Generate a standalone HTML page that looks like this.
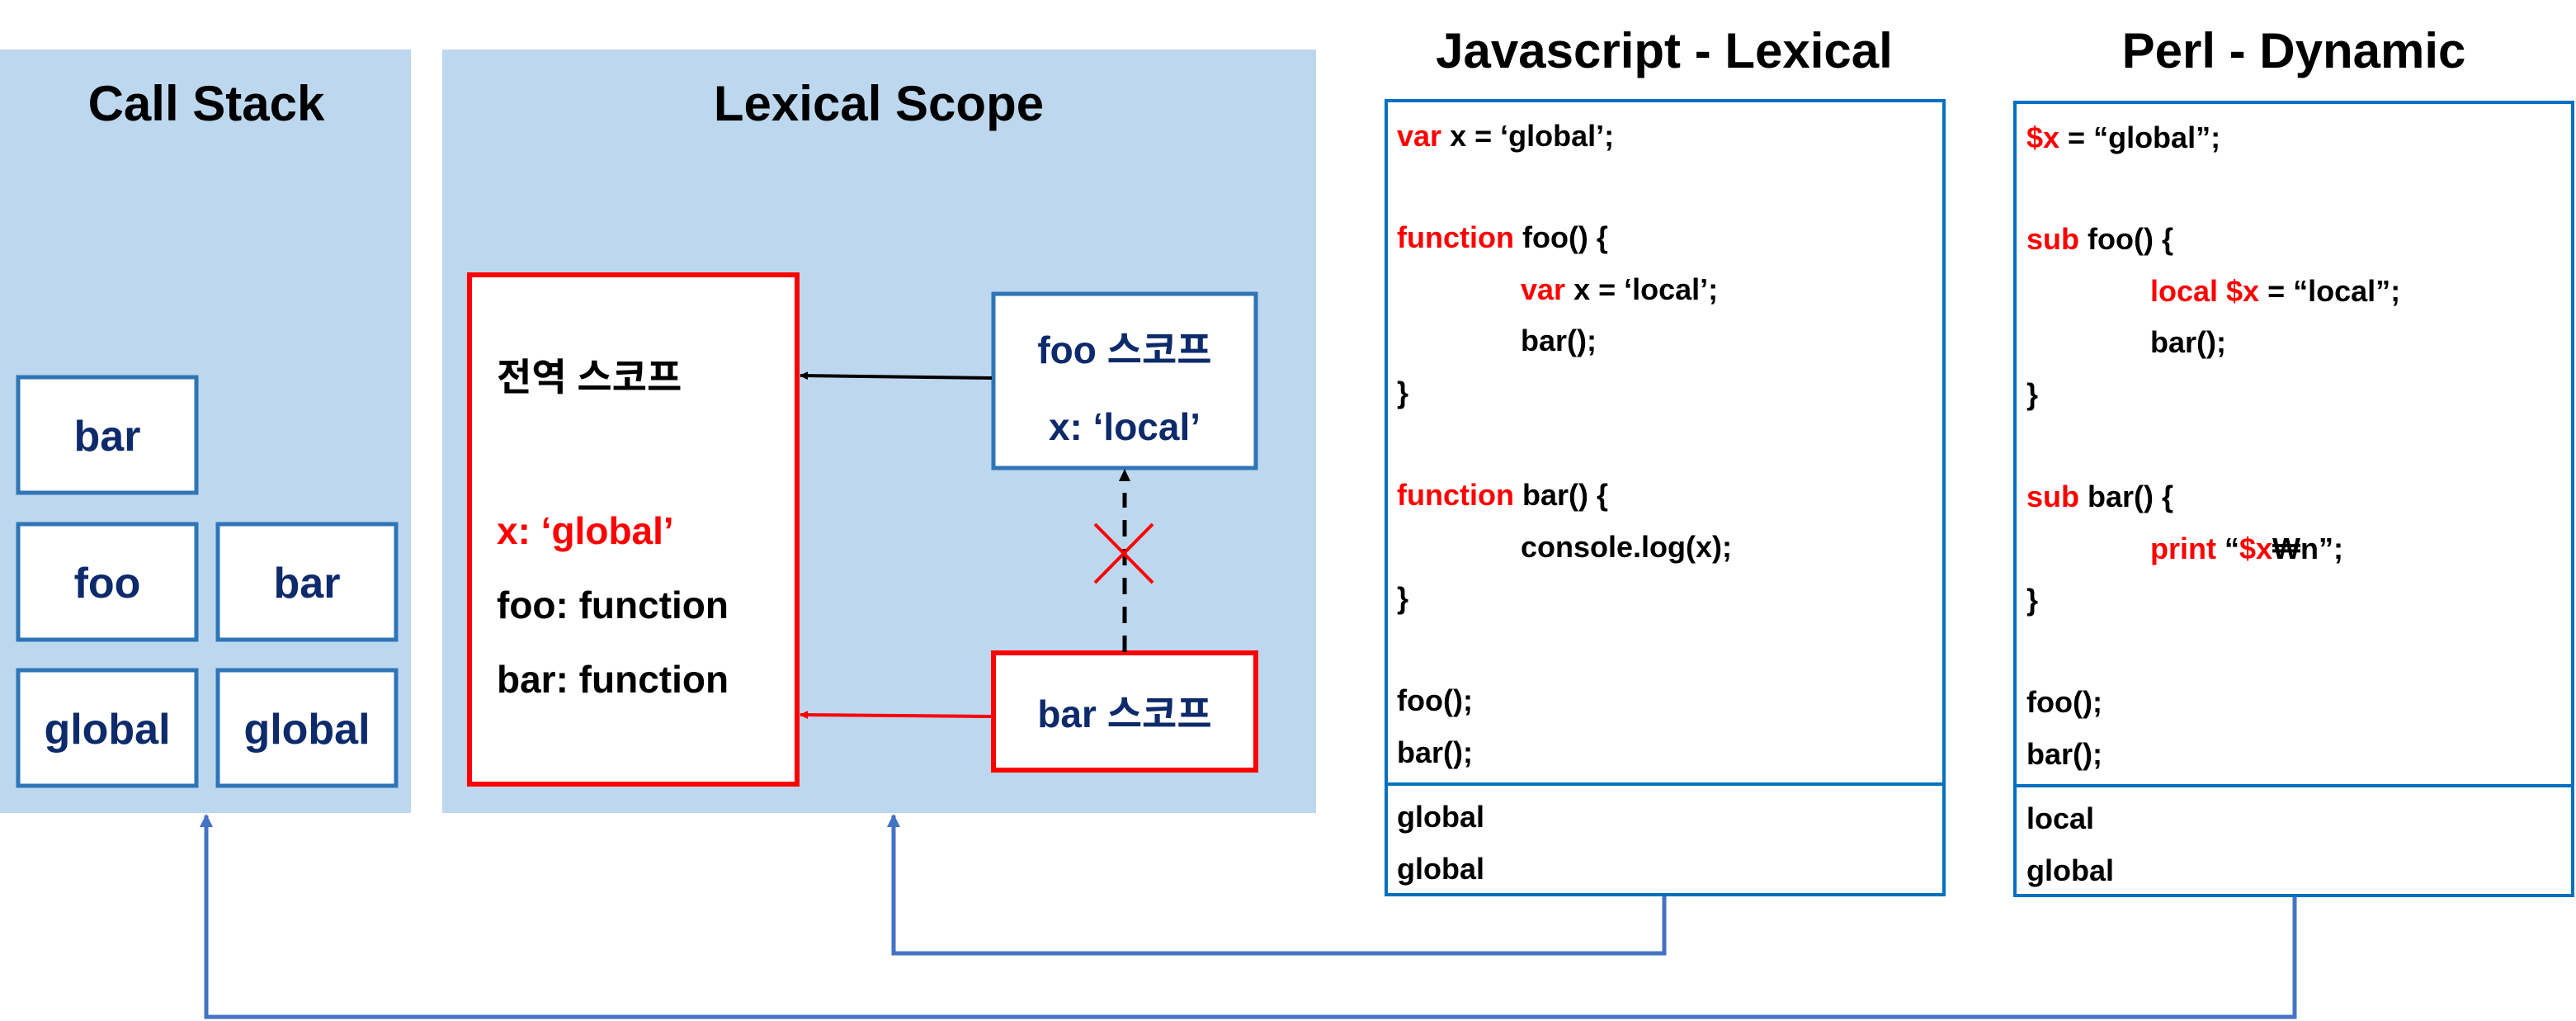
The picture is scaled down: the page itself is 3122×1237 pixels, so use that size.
<!DOCTYPE html>
<html><head><meta charset="utf-8"><style>
html,body{margin:0;padding:0;background:#fff;}
svg{display:block;}
text{font-family:"Liberation Sans","Noto Sans CJK KR",sans-serif;font-weight:bold;}
</style></head><body>
<svg width="3122" height="1237" viewBox="0 0 3122 1237" xmlns="http://www.w3.org/2000/svg">
<defs>
<marker id="ab" markerWidth="10" markerHeight="10" refX="9" refY="5" orient="auto" markerUnits="userSpaceOnUse"><path d="M0,0 L10,5 L0,10 z" fill="#000"/></marker>
<marker id="ar" markerWidth="10" markerHeight="10" refX="9" refY="5" orient="auto" markerUnits="userSpaceOnUse"><path d="M0,0 L10,5 L0,10 z" fill="#f00"/></marker>
<marker id="au" markerWidth="16" markerHeight="16" refX="14" refY="8" orient="auto" markerUnits="userSpaceOnUse"><path d="M0,0 L16,8 L0,16 z" fill="#4472c4"/></marker>
</defs>
<!-- panels -->
<rect x="0" y="60" width="498" height="925" fill="#bdd7ee"/>
<rect x="536" y="60" width="1059" height="925" fill="#bdd7ee"/>
<text x="250" y="146" font-size="60" text-anchor="middle" fill="#000">Call Stack</text>
<text x="1065" y="146" font-size="60" text-anchor="middle" fill="#000">Lexical Scope</text>
<!-- call stack boxes -->
<g fill="#fff" stroke="#2e75b6" stroke-width="5">
<rect x="22" y="457" width="216" height="140"/>
<rect x="22" y="635" width="216" height="140"/>
<rect x="264" y="635" width="216" height="140"/>
<rect x="22" y="812" width="216" height="140"/>
<rect x="264" y="812" width="216" height="140"/>
</g>
<g font-size="52" fill="#0d2a6b" text-anchor="middle">
<text x="130" y="546">bar</text>
<text x="130" y="724">foo</text>
<text x="372" y="724">bar</text>
<text x="130" y="901">global</text>
<text x="372" y="901">global</text>
</g>
<!-- global scope -->
<rect x="569" y="333" width="397" height="617" fill="#fff" stroke="#f00" stroke-width="6"/>
<g font-size="46" fill="#000">
<text x="602" y="473">전역 스코프</text>
<text x="602" y="659" fill="#f00">x: ‘global’</text>
<text x="602" y="749">foo: function</text>
<text x="602" y="839">bar: function</text>
</g>
<!-- foo scope -->
<rect x="1204" y="356" width="318" height="211" fill="#fff" stroke="#2e75b6" stroke-width="5"/>
<text x="1363" y="440" font-size="46" fill="#0d2a6b" text-anchor="middle">foo 스코프</text>
<text x="1363" y="533" font-size="46" fill="#0d2a6b" text-anchor="middle">x: ‘local’</text>
<!-- bar scope -->
<rect x="1204" y="791" width="318" height="142" fill="#fff" stroke="#f00" stroke-width="6"/>
<text x="1363" y="881" font-size="46" fill="#0d2a6b" text-anchor="middle">bar 스코프</text>
<!-- arrows -->
<line x1="1202" y1="458" x2="970" y2="455" stroke="#000" stroke-width="4" marker-end="url(#ab)"/>
<line x1="1201" y1="868" x2="970" y2="866" stroke="#f00" stroke-width="4" marker-end="url(#ar)"/>
<line x1="1363" y1="790" x2="1363" y2="597" stroke="#000" stroke-width="5" stroke-dasharray="20,15"/>
<path d="M1356,583 L1363,568 L1370,583 z" fill="#000"/>
<line x1="1327" y1="635" x2="1397" y2="706" stroke="#f00" stroke-width="4"/>
<line x1="1397" y1="635" x2="1327" y2="706" stroke="#f00" stroke-width="4"/>
<!-- JS box -->
<text x="2017" y="82" font-size="60" text-anchor="middle" fill="#000">Javascript - Lexical</text>
<rect x="1680" y="122" width="676" height="962" fill="#fff" stroke="#0070c0" stroke-width="4"/>
<line x1="1680" y1="950" x2="2356" y2="950" stroke="#0070c0" stroke-width="4"/>
<g font-size="36" fill="#000">
<text x="1693" y="177"><tspan fill="#f00">var</tspan> x = ‘global’;</text>
<text x="1693" y="300"><tspan fill="#f00">function</tspan> foo() {</text>
<text x="1843" y="363"><tspan fill="#f00">var</tspan> x = ‘local’;</text>
<text x="1843" y="425">bar();</text>
<text x="1693" y="488">}</text>
<text x="1693" y="612"><tspan fill="#f00">function</tspan> bar() {</text>
<text x="1843" y="675">console.log(x);</text>
<text x="1693" y="737">}</text>
<text x="1693" y="861">foo();</text>
<text x="1693" y="924">bar();</text>
<text x="1693" y="1002">global</text>
<text x="1693" y="1065">global</text>
</g>
<!-- Perl box -->
<text x="2780" y="82" font-size="60" text-anchor="middle" fill="#000">Perl - Dynamic</text>
<rect x="2442" y="124" width="676" height="961" fill="#fff" stroke="#0070c0" stroke-width="4"/>
<line x1="2442" y1="952" x2="3118" y2="952" stroke="#0070c0" stroke-width="4"/>
<g font-size="36" fill="#000">
<text x="2456" y="179"><tspan fill="#f00">$x</tspan> = “global”;</text>
<text x="2456" y="302"><tspan fill="#f00">sub</tspan> foo() {</text>
<text x="2606" y="365"><tspan fill="#f00">local $x</tspan> = “local”;</text>
<text x="2606" y="427">bar();</text>
<text x="2456" y="490">}</text>
<text x="2456" y="614"><tspan fill="#f00">sub</tspan> bar() {</text>
<text x="2606" y="677"><tspan fill="#f00">print</tspan> “<tspan fill="#f00">$x</tspan>₩n”;</text>
<text x="2456" y="739">}</text>
<text x="2456" y="863">foo();</text>
<text x="2456" y="926">bar();</text>
<text x="2456" y="1004">local</text>
<text x="2456" y="1067">global</text>
</g>
<!-- connectors -->
<polyline points="2017,1086 2017,1155 1083,1155 1083,988" fill="none" stroke="#4472c4" stroke-width="5" marker-end="url(#au)"/>
<polyline points="2781,1087 2781,1232 250,1232 250,988" fill="none" stroke="#4472c4" stroke-width="5" marker-end="url(#au)"/>
</svg>
</body></html>
